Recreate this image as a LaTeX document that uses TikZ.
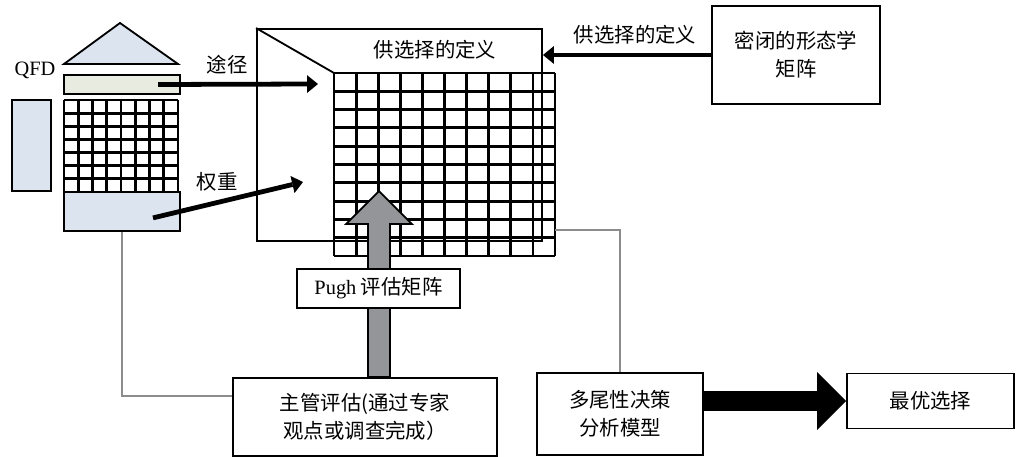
\documentclass[tikz,border=0pt]{standalone}
\usepackage{fontspec}
\setmainfont{Liberation Serif}
\newfontfamily\cjk{Noto Sans CJK SC}
\usetikzlibrary{arrows.meta}

\definecolor{qfdblue}{HTML}{DCE4F0}
\definecolor{qfdgreen}{HTML}{E8EBDF}
\definecolor{pughgray}{HTML}{939598}
\definecolor{linkgray}{HTML}{8C8C8C}

\tikzset{
  box/.style={draw, line width=1.3pt, inner sep=0pt, align=center, fill=white,
    font=\cjk\fontsize{14.5}{20}\selectfont},
  lbl/.style={inner sep=0pt, font=\cjk\fontsize{14.5}{20}\selectfont},
  part/.style={draw, line width=1.3pt, fill=qfdblue, inner sep=0pt},
  gridline/.style={line width=2pt},
  feed/.style={line width=3.4pt, -{Triangle[length=0.27cm,width=0.44cm,line width=0pt]}},
  link/.style={linkgray, line width=1pt},
}

\begin{document}
\begin{tikzpicture}[x=0.025cm, y=-0.025cm]

        \useasboundingbox (0,0) rectangle (1018,457);
%        \draw[style=help lines, step=1cm] (0,0) grid (1018,457);

        % QFD house
        \draw[part] (64,64) -- (120,23) -- (178,64) -- cycle;
        \node[lbl, font=\fontsize{14.5}{17}\selectfont] (qfd) at (35,70) {QFD};
        \node[part, fill=qfdgreen, minimum width=2.9cm, minimum height=0.475cm] (route) at (122,84.5) {};
        \node[part, minimum width=0.975cm, minimum height=2.275cm] (side) at (31.5,145.5) {};
        \node[part, minimum width=2.9cm, minimum height=0.975cm] (weight) at (122,211.5) {};
        \foreach \i in {0,...,8} \draw[gridline] (64+\i*14.25,100) -- (64+\i*14.25,192);
        \foreach \j in {0,...,7} \draw[gridline] (64,100+\j*13.14) -- (178,100+\j*13.14);

        % selection matrix
        \node[box, fill=none, minimum width=7.125cm, minimum height=5.3cm] (frame) at (399.5,135) {};
        \coordinate (gridnw) at (334,73);
        \draw[line width=1.3pt] (frame.north west) -- (gridnw);
        \node[lbl] (deftitle) at (435,50) {供选择的定义};
        \foreach \i in {0,...,10} \draw[gridline] (334+\i*22.1,73) -- (334+\i*22.1,256);
        \foreach \j in {0,...,10} \draw[gridline] (334,73+\j*18.3) -- (555,73+\j*18.3);

        % inputs
        \node[box, minimum width=4.2cm, minimum height=2.45cm] (morph) at (796,55) {密闭的形态学\\矩阵};
        \node[lbl] (deflabel) at (635,35) {供选择的定义};
        \draw[feed] (morph.west) -- (frame.east |- morph.west);

        \node[lbl] (routelabel) at (227,65) {途径};
        \coordinate (routetip) at (318,84);
        \draw[feed] ([xshift=0.9cm]route.center) -- (routetip);

        \node[lbl] (weightlabel) at (217,182) {权重};
        \coordinate (weighttip) at (303,182);
        \draw[feed] ([xshift=0.775cm,yshift=-0.16cm]weight.center) -- (weighttip);

        % evaluation
        \node[box, minimum width=6.6cm, minimum height=1.95cm] (expert) at (365,417) {主管评估(通过专家\\观点或调查完成）};
        \draw[line width=1.3pt, fill=pughgray] ([xshift=0.075cm]expert.north) -- ++(0,-153) -- ++(-22,0)
            -- ++(33,-33) -- ++(33,33) -- ++(-22,0) -- ++(0,153) -- cycle;
        \node[box, minimum width=4.075cm, minimum height=0.975cm] (pugh) at (378.5,288.5) {{\rmfamily Pugh} 评估矩阵};
        \draw[link] (weight.south) |- ([yshift=0.525cm]expert.west);

        % decision
        \node[box, minimum width=4.15cm, minimum height=2.05cm] (mcda) at (620,414) {多尾性决策\\分析模型};
        \node[box, minimum width=4.175cm, minimum height=1.375cm] (best) at (930.5,401) {最优选择};
        \coordinate (gridout) at (555,230);
        \draw[link] (gridout) -| (mcda.north);
        \draw[line width=0.5cm, -{Triangle[length=0.725cm,width=1.45cm,line width=0pt]}] (mcda.east |- best.west) -- (best.west);

\end{tikzpicture}
\end{document}
